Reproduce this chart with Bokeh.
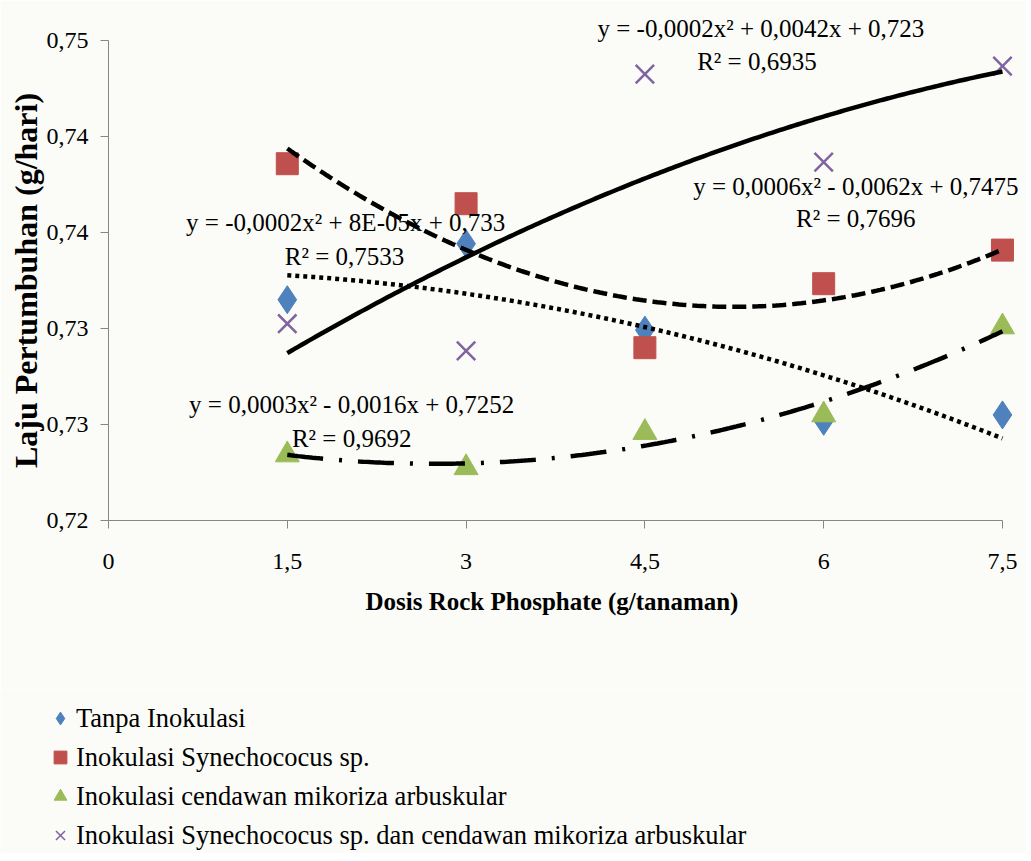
import numpy as np
from bokeh.plotting import figure
from bokeh.layouts import column
from bokeh.models import FixedTicker, Label, Legend, LegendItem, Range1d, Title
from bokeh.embed import file_html
from bokeh.resources import INLINE

# ---- data ----
dosis = [1.5, 3, 4.5, 6, 7.5]
tanpa = [0.7338, 0.7373, 0.7319, 0.7262, 0.7266]
syn = [0.7423, 0.7398, 0.7308, 0.7348, 0.7369]
cma = [0.7241, 0.7233, 0.7255, 0.7266, 0.7321]
syn_cma = [0.7323, 0.7306, 0.7479, 0.7424, 0.7484]

series_names = [
    "Tanpa Inokulasi",
    "Inokulasi Synechococus sp.",
    "Inokulasi cendawan mikoriza arbuskular",
    "Inokulasi Synechococus sp. dan cendawan mikoriza arbuskular",
]

x_ticks = [0, 1.5, 3, 4.5, 6, 7.5]
x_tick_labels = ["0", "1,5", "3", "4,5", "6", "7,5"]
y_ticks = [0.72, 0.726, 0.732, 0.738, 0.744, 0.75]
y_tick_labels = ["0,72", "0,73", "0,73", "0,74", "0,74", "0,75"]

top_eq = "y = -0,0002x² + 0,0042x + 0,723"
eq_texts = [
    "R² = 0,6935",
    "y = 0,0006x² - 0,0062x + 0,7475", "R² = 0,7696",
    "y = -0,0002x² + 8E-05x + 0,733", "R² = 0,7533",
    "y = 0,0003x² - 0,0016x + 0,7252", "R² = 0,9692",
]
eq_x = [5.44, 6.27, 6.27, 1.99, 1.98, 2.04, 2.04]
eq_y = [0.74869, 0.74088, 0.73888, 0.73863, 0.7365, 0.72725, 0.72513]

FONT = "Liberation Serif"
BG = "#fbfcf7"
colors = ["#4F81BD", "#C0504D", "#9BBB59", "#8064A2"]

p = figure(
    width=1026, height=688,
    x_range=Range1d(0, 7.668), y_range=Range1d(0.72, 0.75),
    output_backend="svg", toolbar_location=None, frame_align=False,
    min_border_left=108, min_border_right=4, min_border_top=40, min_border_bottom=168,
    background_fill_color=BG, border_fill_color=BG,
)
p.outline_line_color = None
p.xgrid.visible = False
p.ygrid.visible = False

# axes
for ax in (p.xaxis[0], p.yaxis[0]):
    ax.axis_line_color = "#868686"
    ax.major_tick_line_color = "#868686"
    ax.major_tick_out = 8
    ax.major_tick_in = 0
    ax.minor_tick_line_color = None
    ax.major_label_text_font = FONT
    ax.major_label_text_font_size = "24px"
    ax.major_label_text_color = "#000000"
    ax.axis_label_text_font = FONT
    ax.axis_label_text_font_style = "bold"
    ax.axis_label_text_color = "#000000"

p.xaxis.bounds = (0, 7.5)
p.xaxis.ticker = FixedTicker(ticks=x_ticks)
p.xaxis.major_label_overrides = {t: l for t, l in zip(x_ticks, x_tick_labels)}
p.xaxis.major_label_standoff = 25

p.yaxis.bounds = (0.72, 0.75)
p.yaxis.ticker = FixedTicker(ticks=y_ticks)
p.yaxis.major_label_overrides = {t: l for t, l in zip(y_ticks, y_tick_labels)}
p.yaxis.axis_label = "Laju Pertumbuhan (g/hari)"
p.yaxis.axis_label_text_font_size = "32px"
p.yaxis.major_label_standoff = 12
p.yaxis.axis_label_standoff = 0

# x axis title, placed under the tick labels of the 0..7,5 span
p.add_layout(Title(text="Dosis Rock Phosphate (g/tanaman)", text_font=FONT, text_font_size="25px",
                   text_font_style="bold", text_color="#000000", align="left", offset=257,
                   standoff=28), "below")

# markers (drawn first, trend lines lie on top as in the reference)
p.scatter(dosis, tanpa, marker="diamond", size=28, fill_color=colors[0], line_color=colors[0])
p.scatter(dosis, syn, marker="square", size=22, fill_color=colors[1], line_color=colors[1])
p.scatter(dosis, cma, marker="triangle", size=24, fill_color=colors[2], line_color=colors[2])
p.scatter(dosis, syn_cma, marker="x", size=26, line_color=colors[3], line_width=2.5)

# trend lines (2nd order polynomial fits of each series)
xx = np.linspace(dosis[0], dosis[-1], 200)
def trend(vals):
    c = np.polyfit(dosis, vals, 2)
    return np.polyval(c, xx)

p.line(xx, trend(syn_cma), line_color="black", line_width=4.5)
p.line(xx, trend(syn), line_color="black", line_width=4.5, line_dash="14 6")
p.line(xx, trend(tanpa), line_color="black", line_width=4.5, line_dash="4 4")
p.line(xx, trend(cma), line_color="black", line_width=4.5, line_dash="36 16 3 16")

# equation labels
p.add_layout(Title(text=top_eq, text_font=FONT, text_font_size="25px", text_font_style="normal",
                   text_color="#000000", align="left", offset=489, standoff=-3), "above")
for t, x, y in zip(eq_texts, eq_x, eq_y):
    p.add_layout(Label(x=x, y=y, text=t, text_font=FONT, text_font_size="25px",
                       text_align="center", text_baseline="middle", text_color="#000000"))

# legend panel (the legend renderers' data lie outside its ranges, only the legend shows)
lg = figure(
    width=1026, height=165, x_range=Range1d(0, 1), y_range=Range1d(0, 1),
    output_backend="svg", toolbar_location=None, frame_align=False,
    x_axis_type=None, y_axis_type=None,
    min_border=0, min_border_left=0, min_border_right=0, min_border_top=0, min_border_bottom=0,
    background_fill_color=BG, border_fill_color=BG,
)
lg.outline_line_color = None
lg.xgrid.visible = False
lg.ygrid.visible = False
l1 = lg.scatter(dosis, tanpa, marker="diamond", fill_color=colors[0], line_color=colors[0])
l2 = lg.scatter(dosis, syn, marker="square", fill_color=colors[1], line_color=colors[1])
l3 = lg.scatter(dosis, cma, marker="triangle", fill_color=colors[2], line_color=colors[2])
l4 = lg.scatter(dosis, syn_cma, marker="x", line_color=colors[3], line_width=1.5)

legend = Legend(
    items=[LegendItem(label=n, renderers=[r]) for n, r in zip(series_names, [l1, l2, l3, l4])],
    location=(44, 0),
    orientation="vertical",
    background_fill_alpha=0, border_line_color=None,
    padding=0, margin=0, spacing=3,
    glyph_width=32, glyph_height=36, label_height=36, label_standoff=0,
    label_text_font=FONT, label_text_font_size="26.5px", label_text_color="#000000",
)
lg.add_layout(legend)

page = column(p, lg, spacing=0)
open("out.html", "w").write(file_html(page, INLINE))
